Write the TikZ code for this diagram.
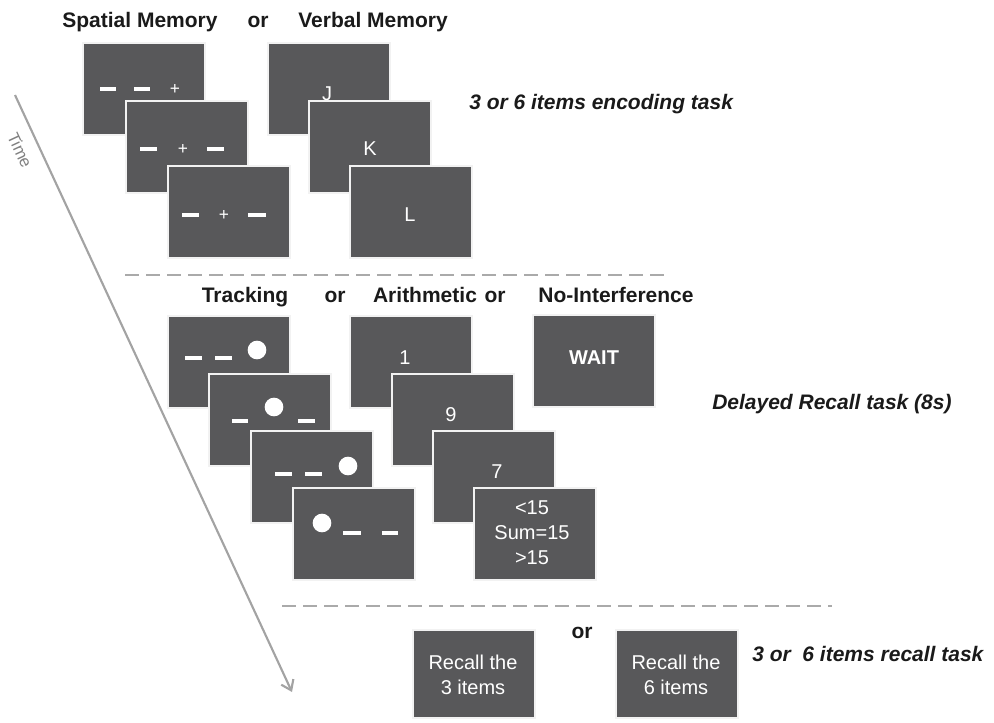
\documentclass[tikz,border=0pt]{standalone}
\usepackage{fontspec}
\setmainfont{Liberation Sans}
\usetikzlibrary{arrows.meta,shadows}
\definecolor{boxgray}{HTML}{58585A}
\definecolor{boxedge}{HTML}{F2F2F2}
\definecolor{headtext}{HTML}{1A1A1A}
\definecolor{sepgray}{HTML}{AAAAAA}
\definecolor{timegray}{HTML}{A3A3A3}
\begin{document}
\begin{tikzpicture}[x=0.75pt,y=-0.75pt,
  screen/.style={draw=boxedge, line width=1.4pt, fill=boxgray,
    minimum width=91.5pt, minimum height=69pt, anchor=north west, inner sep=0pt,
    drop shadow={opacity=0.3, shadow xshift=0.6pt, shadow yshift=-0.8pt}},
  recallscreen/.style={screen, minimum height=66pt},
  head/.style={font=\fontsize{15.75}{18}\selectfont\bfseries, text=headtext, anchor=base, inner sep=0pt},
  note/.style={font=\fontsize{15.75}{18}\selectfont\bfseries\itshape, text=headtext, anchor=base west, inner sep=0pt},
  scrtext/.style={font=\fontsize{15}{18}\selectfont, text=white, inner sep=0pt},
  plus/.style={font=\fontsize{13}{15}\selectfont, text=white, inner sep=0pt},
  bar/.style={draw=white, line width=2.6pt},
  tbar/.style={draw=white, line width=2.3pt},
  dot/.style={circle, fill=white, minimum size=14pt, inner sep=0pt},
  sep/.style={draw=sepgray, line width=2.2pt, dash pattern=on 10.5pt off 5.25pt},
  timeline/.style={draw=timegray, line width=1.6pt, -{Straight Barb[length=7pt,width=10pt,line width=1.6pt]}},
]
\useasboundingbox (0,0) rectangle (994,722);

% ---------- headings row 1
\node[head] (spatialhead) at (140,27) {Spatial Memory};
\node[head] (orA) at (258,27) {or};
\node[head] (verbalhead) at (373,27) {Verbal Memory};

% ---------- spatial memory screens
\node[screen] (s1) at (82,42) {};
\draw[bar] (100,89) -- (116,89);
\draw[bar] (134,89) -- (150,89);
\node[plus] (s1p) at (175,89) {+};
\node[screen] (s2) at (125,100) {};
\draw[bar] (140,149) -- (157,149);
\node[plus] (s2p) at (183,149) {+};
\draw[bar] (207,149) -- (224,149);
\node[screen] (s3) at (167,165) {};
\draw[bar] (182,215) -- (199,215);
\node[plus] (s3p) at (224,215) {+};
\draw[bar] (248,215) -- (266,215);

% ---------- verbal memory screens
\node[screen] (v1) at (267,42) {};
\node[scrtext, anchor=base] (vJ) at (327,100) {J};
\node[screen] (v2) at (308,100) {};
\node[scrtext] (vK) at (370,149) {K};
\node[screen] (v3) at (349,165) {};
\node[scrtext] (vL) at (410,215) {L};

\node[note] (encode) at (469,109) {3 or 6 items encoding task};

% ---------- separator 1
\coordinate (sepAl) at (125,275);
\coordinate (sepAr) at (670,275);
\draw[sep] (sepAl) -- (sepAr);

% ---------- headings row 2
\node[head] (trackhead) at (245,302) {Tracking};
\node[head] (orB) at (335,302) {or};
\node[head] (arithhead) at (425,302) {Arithmetic};
\node[head] (orC) at (495,302) {or};
\node[head] (nointhead) at (616,302) {No-Interference};

% ---------- tracking screens
\node[screen] (t1) at (167,315) {};
\draw[tbar] (185,358) -- (202,358);
\draw[tbar] (215,358) -- (232,358);
\node[dot] (t1d) at (257,350) {};
\node[screen] (t2) at (208,373) {};
\draw[tbar] (232,421) -- (248,421);
\node[dot] (t2d) at (274,407) {};
\draw[tbar] (298,421) -- (315,421);
\node[screen] (t3) at (250,430) {};
\draw[tbar] (275,474) -- (292,474);
\draw[tbar] (305,474) -- (322,474);
\node[dot] (t3d) at (348,466) {};
\node[screen] (t4) at (292,487) {};
\node[dot] (t4d) at (322,523) {};
\draw[tbar] (343,533) -- (361,533);
\draw[tbar] (382,533) -- (398,533);

% ---------- arithmetic screens
\node[screen] (a1) at (349,315) {};
\node[scrtext] (a1n) at (405,358) {1};
\node[screen] (a2) at (391,373) {};
\node[scrtext] (a2n) at (451,415) {9};
\node[screen] (a3) at (432,430) {};
\node[scrtext] (a3n) at (497,472) {7};
\node[screen] (a4) at (473,487) {};
\node[scrtext, align=center, font=\fontsize{15}{18.75}\selectfont] (a4n) at (532,533) {<15\\Sum=15\\>15};

% ---------- no interference
\node[screen] (w1) at (532,314) {};
\node[scrtext, font=\fontsize{15}{18}\selectfont\bfseries] (w1t) at (594,358) {WAIT};

\node[note] (delayed) at (712,409) {Delayed Recall task (8s)};

% ---------- separator 2
\coordinate (sepBl) at (282,606);
\coordinate (sepBr) at (832,606);
\draw[sep] (sepBl) -- (sepBr);

% ---------- recall screens
\node[recallscreen] (r1) at (412,629) {};
\node[scrtext, align=center, font=\fontsize{15}{18.75}\selectfont] (r1t) at (473,675) {Recall the\\3 items};
\node[head] (orD) at (582,638) {or};
\node[recallscreen] (r2) at (615,629) {};
\node[scrtext, align=center, font=\fontsize{15}{18.75}\selectfont] (r2t) at (676,675) {Recall the\\6 items};

\node[note] (recalltask) at (752,661) {3 or\ \ 6 items recall task};

% ---------- time arrow
\coordinate (tstart) at (15,95);
\coordinate (tend) at (292,692);
\draw[timeline] (tstart) -- (tend);
\node[font=\fontsize{12.5}{14}\selectfont, text=gray, rotate=-65, inner sep=0pt] (timelabel) at (20,150) {Time};

\end{tikzpicture}
\end{document}
